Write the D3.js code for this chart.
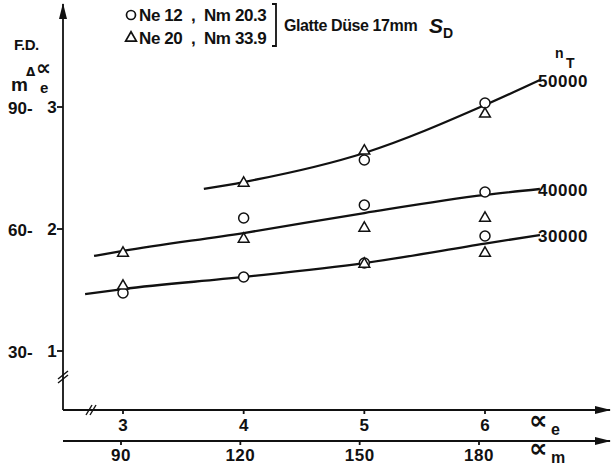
<!DOCTYPE html>
<html>
<head>
<meta charset="utf-8">
<script src="https://cdn.jsdelivr.net/npm/d3@7"></script>
<style>
  body { margin: 0; background: #fff; }
  text { font-family: "Liberation Sans", Arial, sans-serif; font-weight: bold; fill: #111; white-space: pre; }
  .sym { font-family: "DejaVu Sans", sans-serif; }
</style>
</head>
<body>
<div id="chart"></div>
<script>
const width = 611;
const height = 468;

// measured points, x in alpha_e, y in alpha_e scale (1..3)
const ne12X = [3, 4, 4, 5, 5, 5, 6, 6, 6];
const ne12Y = [1.475, 2.09, 1.607, 2.566, 2.197, 1.721, 3.033, 2.303, 1.943];
const ne20X = [3, 3, 4, 4, 5, 5, 5, 6, 6, 6];
const ne20Y = [1.811, 1.541, 2.385, 1.926, 2.648, 2.016, 1.721, 2.951, 2.098, 1.811];

// fitted curves for n_T
const nTLabels = ["50000", "40000", "30000"];
const curve50X = [3.67, 4, 5, 6, 6.455];
const curve50Y = [2.328, 2.385, 2.623, 3.016, 3.221];
const curve40X = [2.76, 3, 4, 5, 6, 6.455];
const curve40Y = [1.779, 1.82, 1.967, 2.131, 2.279, 2.328];
const curve30X = [2.686, 3, 4, 5, 6, 6.455];
const curve30Y = [1.467, 1.508, 1.607, 1.721, 1.88, 1.951];

// axis ticks
const eTicks = [3, 4, 5, 6];
const mTicks = [90, 120, 150, 180];
const yTicks = [1, 2, 3];
const fdTicks = [30, 60, 90];

const svg = d3.select("#chart").append("svg")
  .attr("width", width)
  .attr("height", height);

svg.append("rect").attr("width", width).attr("height", height).attr("fill", "#fff");

const x = d3.scaleLinear().domain([3, 6]).range([123, 485]);
const xm = d3.scaleLinear().domain([90, 180]).range([121, 479]);
const y = d3.scaleLinear().domain([1, 3]).range([351, 107]);
const yfd = d3.scaleLinear().domain([30, 90]).range([351, 107]);

const x0 = 63, yAxis0 = 410, yAxis1 = 441;

// arrowhead
svg.append("defs").append("marker")
  .attr("id", "arr")
  .attr("viewBox", "0 0 16 10")
  .attr("refX", 15).attr("refY", 5)
  .attr("markerWidth", 16).attr("markerHeight", 10)
  .attr("markerUnits", "userSpaceOnUse")
  .attr("orient", "auto")
  .append("path").attr("d", "M0,1 L16,5 L0,9 Z").attr("fill", "#111");

const ax = svg.append("g").attr("stroke", "#111").attr("stroke-width", 1.8).attr("fill", "none");

// vertical axis
ax.append("path").attr("d", `M${x0},${yAxis0}V4`).attr("marker-end", "url(#arr)");
// horizontal axes
ax.append("path").attr("d", `M${x0},${yAxis0}H610`).attr("marker-end", "url(#arr)");
ax.append("path").attr("d", `M${x0},${yAxis1}H610`).attr("marker-end", "url(#arr)");

// break marks
const brk = svg.append("g").attr("stroke", "#111").attr("stroke-width", 1.4);
[0, 4].forEach(o => {
  brk.append("line").attr("x1", x0 - 5).attr("y1", 383 - o).attr("x2", x0 + 5).attr("y2", 375 - o);
  brk.append("line").attr("x1", 86 + o).attr("y1", yAxis0 + 5).attr("x2", 92 + o).attr("y2", yAxis0 - 5);
});

// y ticks
yTicks.forEach(t => {
  ax.append("line").attr("x1", x0 - 6).attr("x2", x0).attr("y1", y(t)).attr("y2", y(t));
  svg.append("text").attr("x", 52).attr("y", y(t)).attr("dy", "0.35em")
    .attr("text-anchor", "middle").attr("font-size", 17).text(t);
});
fdTicks.forEach(t => {
  svg.append("text").attr("x", 8).attr("y", yfd(t)).attr("dy", "0.4em")
    .attr("font-size", 17).text(t + "-");
});

// x ticks
eTicks.forEach(t => {
  ax.append("line").attr("x1", x(t)).attr("x2", x(t)).attr("y1", yAxis0).attr("y2", yAxis0 + 4);
  svg.append("text").attr("x", x(t)).attr("y", 431).attr("text-anchor", "middle")
    .attr("font-size", 17).text(t);
});
mTicks.forEach(t => {
  ax.append("line").attr("x1", xm(t)).attr("x2", xm(t)).attr("y1", yAxis1).attr("y2", yAxis1 + 4);
  svg.append("text").attr("x", xm(t)).attr("y", 461).attr("text-anchor", "middle")
    .attr("font-size", 17).attr("letter-spacing", 0.5).text(t);
});

// axis titles
svg.append("text").attr("class", "sym").attr("x", 529).attr("y", 429).attr("font-size", 26).text("∝");
svg.append("text").attr("x", 551).attr("y", 435).attr("font-size", 16).text("e");
svg.append("text").attr("class", "sym").attr("x", 529).attr("y", 457).attr("font-size", 26).text("∝");
svg.append("text").attr("x", 551).attr("y", 463).attr("font-size", 16).text("m");

svg.append("text").attr("x", 14).attr("y", 50).attr("font-size", 15).attr("letter-spacing", -0.5).text("F.D.");
svg.append("text").attr("x", 11).attr("y", 91).attr("font-size", 19).text("m");
svg.append("text").attr("class", "sym").attr("x", 26).attr("y", 76).attr("font-size", 12).text("Δ");
svg.append("text").attr("class", "sym").attr("x", 36).attr("y", 75).attr("font-size", 21).text("∝");
svg.append("text").attr("x", 40).attr("y", 93).attr("font-size", 15).text("e");

// curves
const line = d3.line().x(d => x(d[0])).y(d => y(d[1])).curve(d3.curveMonotoneX);
const curves = [
  [curve50X, curve50Y],
  [curve40X, curve40Y],
  [curve30X, curve30Y]
];
curves.forEach((c, i) => {
  const pts = c[0].map((v, j) => [v, c[1][j]]);
  svg.append("path").attr("d", line(pts))
    .attr("fill", "none").attr("stroke", "#111").attr("stroke-width", 2.3);
  const last = pts[pts.length - 1];
  svg.append("text").attr("x", x(last[0]) - 2).attr("y", y(last[1]) + 7)
    .attr("font-size", 17).attr("letter-spacing", 0.6).text(nTLabels[i]);
});
svg.append("text").attr("x", 555).attr("y", 58).attr("font-size", 14).text("n");
svg.append("text").attr("x", 566).attr("y", 68).attr("font-size", 14).text("T");

// markers
const tri = d3.symbol().type(d3.symbolTriangle).size(50);
svg.append("g").selectAll("circle")
  .data(ne12X.map((v, i) => [v, ne12Y[i]]))
  .join("circle")
  .attr("cx", d => x(d[0])).attr("cy", d => y(d[1])).attr("r", 5)
  .attr("fill", "#fff").attr("stroke", "#111").attr("stroke-width", 1.5);
svg.append("g").selectAll("path")
  .data(ne20X.map((v, i) => [v, ne20Y[i]]))
  .join("path")
  .attr("d", tri)
  .attr("transform", d => `translate(${x(d[0])},${y(d[1]) + 1})`)
  .attr("fill", "#fff").attr("stroke", "#111").attr("stroke-width", 1.5);

// legend
svg.append("circle").attr("cx", 131).attr("cy", 15).attr("r", 4.5)
  .attr("fill", "#fff").attr("stroke", "#111").attr("stroke-width", 1.7);
svg.append("path").attr("d", tri).attr("transform", "translate(131,38)")
  .attr("fill", "#fff").attr("stroke", "#111").attr("stroke-width", 1.7);
svg.append("text").attr("x", 139).attr("y", 21).attr("font-size", 17).attr("letter-spacing", -0.4)
  .text("Ne 12  ,  Nm 20.3");
svg.append("text").attr("x", 139).attr("y", 44).attr("font-size", 17).attr("letter-spacing", -0.4)
  .text("Ne 20  ,  Nm 33.9");
svg.append("path").attr("d", "M272,4 H276 V46 H272")
  .attr("fill", "none").attr("stroke", "#111").attr("stroke-width", 1.8);
svg.append("text").attr("x", 284).attr("y", 31).attr("font-size", 16).attr("letter-spacing", -0.4)
  .text("Glatte Düse 17mm");
svg.append("text").attr("x", 429).attr("y", 33).attr("font-size", 21)
  .attr("font-family", "DejaVu Serif").attr("font-style", "italic").text("S");
svg.append("text").attr("x", 443).attr("y", 38).attr("font-size", 14).text("D");
</script>
</body>
</html>
